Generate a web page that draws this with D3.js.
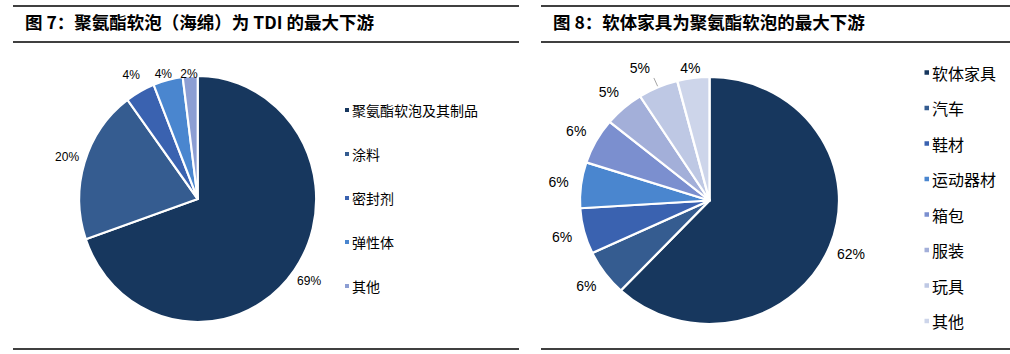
<!DOCTYPE html>
<html>
<head>
<meta charset="utf-8">
<script src="https://cdn.jsdelivr.net/npm/d3@7"></script>
<style>
  body { margin: 0; background: #fff; }
  svg { display: block; }
</style>
</head>
<body>
<svg id="chart" width="1010" height="354"></svg>
<script>
// data
const titleLeft = "图 7：聚氨酯软泡（海绵）为 TDI 的最大下游";
const titleRight = "图 8：软体家具为聚氨酯软泡的最大下游";

const catsLeft = ["聚氨酯软泡及其制品", "涂料", "密封剂", "弹性体", "其他"];
const valsLeft = [69, 20, 4, 4, 2];
const colorsLeft = ["#17375e", "#355c90", "#3a62b0", "#4a86cf", "#8c9ed3"];

const catsRight = ["软体家具", "汽车", "鞋材", "运动器材", "箱包", "服装", "玩具", "其他"];
const valsRight = [62, 6, 6, 6, 6, 5, 5, 4];
const colorsRight = ["#17375e", "#355c90", "#3a62b0", "#4a86cf", "#7b8fcf", "#a3afd9", "#bec8e4", "#cdd5ea"];

const svg = d3.select("#chart");

// header / footer rules
function rules(x0, x1) {
    [6, 42, 349].forEach(y => {
        svg.append("line")
            .attr("x1", x0).attr("x2", x1)
            .attr("y1", y).attr("y2", y)
            .attr("stroke", "#000").attr("stroke-width", 1.3);
    });
}
rules(13, 519);
rules(541, 1010);

svg.append("text").attr("x", 25).attr("y", 29)
    .attr("font-family", "Noto Sans CJK SC").attr("font-weight", "bold")
    .attr("font-size", 17.5).attr("fill", "#000").text(titleLeft);
svg.append("text").attr("x", 553).attr("y", 29)
    .attr("font-family", "Noto Sans CJK SC").attr("font-weight", "bold")
    .attr("font-size", 17.5).attr("fill", "#000").text(titleRight);

function drawPie(opt) {
    const g = svg.append("g").attr("transform", `translate(${opt.cx},${opt.cy})`);
    const pie = d3.pie().sort(null).value(d => d)(opt.values);
    const arc = d3.arc().innerRadius(0).outerRadius(opt.r);

    g.append("g").attr("transform", `scale(${opt.sx},1)`)
        .selectAll("path").data(pie).join("path")
        .attr("d", arc)
        .attr("fill", (d, i) => opt.colors[i])
        .attr("stroke", "#fff")
        .attr("stroke-width", 2.2)
        .attr("stroke-linejoin", "round");

    // labels
    const labelArc = d3.arc().innerRadius(opt.lr).outerRadius(opt.lr);
    pie.forEach((d, i) => {
        let [x, y] = labelArc.centroid(d);
        x *= opt.sx;
        if (opt.leader && opt.leader.includes(i)) {
            const a = (d.startAngle + d.endAngle) / 2;
            const p0 = [Math.sin(a) * (opt.r + 1) * opt.sx, -Math.cos(a) * (opt.r + 1)];
            const p1 = [Math.sin(a) * (opt.r + 10) * opt.sx, -Math.cos(a) * (opt.r + 10)];
            g.append("line")
                .attr("x1", p0[0]).attr("y1", p0[1])
                .attr("x2", p1[0]).attr("y2", p1[1])
                .attr("stroke", "#a6a6a6").attr("stroke-width", 1);
            x = p1[0] - 14;
            y = p1[1] - 12;
        }
        y = Math.max(y, opt.minY - opt.cy);
        g.append("text")
            .attr("x", x).attr("y", y)
            .attr("text-anchor", "middle")
            .attr("dominant-baseline", "central")
            .attr("font-family", "Liberation Sans Narrow, Arial Narrow, sans-serif")
            .attr("font-size", opt.labelSize)
            .attr("fill", "#000")
            .text(opt.values[i] + "%");
    });

    // legend
    const lg = svg.append("g");
    opt.cats.forEach((c, i) => {
        const y = opt.legY + i * opt.legStep;
        lg.append("rect")
            .attr("x", opt.legX - opt.mk - 3).attr("y", y - opt.mk / 2)
            .attr("width", opt.mk).attr("height", opt.mk)
            .attr("fill", opt.colors[i]);
        lg.append("text")
            .attr("x", opt.legX).attr("y", y)
            .attr("dominant-baseline", "central")
            .attr("font-family", "Noto Sans CJK SC")
            .attr("font-size", opt.legSize)
            .attr("fill", "#000")
            .text(c);
    });
}

drawPie({
    cx: 197.7, cy: 199, r: 123, sx: 0.963,
    values: valsLeft, colors: colorsLeft, cats: catsLeft,
    lr: 142, minY: 74, labelSize: 12,
    legX: 352, legY: 110, legStep: 44, legSize: 14, mk: 4
});

drawPie({
    cx: 709.5, cy: 200.5, r: 123.5, sx: 1.049,
    values: valsRight, colors: colorsRight, cats: catsRight,
    lr: 145, minY: 68, labelSize: 14, leader: [6],
    legX: 932, legY: 72.5, legStep: 35.5, legSize: 16, mk: 4.5
});
</script>
</body>
</html>
